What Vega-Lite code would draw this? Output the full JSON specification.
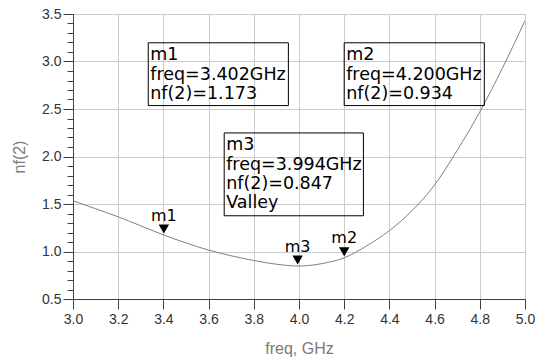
{
  "$schema": "https://vega.github.io/schema/vega-lite/v6.json",
  "width": 452,
  "height": 285,
  "autosize": "none",
  "padding": {"left": 73, "top": 14, "right": 10, "bottom": 63},
  "background": "white",
  "config": {
    "view": {"stroke": "#404040", "strokeWidth": 1},
    "axis": {
      "labelFont": "Liberation Sans",
      "labelFontSize": 14,
      "labelColor": "#333333",
      "titleFont": "Liberation Sans",
      "titleFontSize": 16,
      "titleFontWeight": "normal",
      "titleColor": "#7a7a7a",
      "tickColor": "#404040",
      "domainColor": "#404040",
      "gridColor": "#cccccc",
      "gridWidth": 1,
      "tickWidth": 1
    }
  },
  "resolve": {"axis": {"y": "independent"}},
  "datasets": {
    "curve": [
      {"freq": 3.0, "nf": 1.535},
      {"freq": 3.1, "nf": 1.45},
      {"freq": 3.2, "nf": 1.365},
      {"freq": 3.3, "nf": 1.27},
      {"freq": 3.4, "nf": 1.175},
      {"freq": 3.5, "nf": 1.09},
      {"freq": 3.6, "nf": 1.015},
      {"freq": 3.7, "nf": 0.955},
      {"freq": 3.8, "nf": 0.905},
      {"freq": 3.9, "nf": 0.866},
      {"freq": 4.0, "nf": 0.847},
      {"freq": 4.1, "nf": 0.872},
      {"freq": 4.2, "nf": 0.934},
      {"freq": 4.3, "nf": 1.06},
      {"freq": 4.4, "nf": 1.22},
      {"freq": 4.5, "nf": 1.43},
      {"freq": 4.6, "nf": 1.7},
      {"freq": 4.7, "nf": 2.065},
      {"freq": 4.8, "nf": 2.47},
      {"freq": 4.9, "nf": 2.93},
      {"freq": 5.0, "nf": 3.43}
    ],
    "markers": [
      {"name": "m1", "freq": 3.402, "nf": 1.173},
      {"name": "m2", "freq": 4.2, "nf": 0.934},
      {"name": "m3", "freq": 3.994, "nf": 0.847}
    ],
    "boxes": [
      {"name": "m1", "x1": 3.333, "x2": 3.953, "y1": 3.197, "y2": 2.536, "lines": ["m1", "freq=3.402GHz", "nf(2)=1.173"]},
      {"name": "m2", "x1": 4.2, "x2": 4.82, "y1": 3.197, "y2": 2.536, "lines": ["m2", "freq=4.200GHz", "nf(2)=0.934"]},
      {"name": "m3", "x1": 3.669, "x2": 4.285, "y1": 2.248, "y2": 1.376, "lines": ["m3", "freq=3.994GHz", "nf(2)=0.847", "Valley"]}
    ]
  },
  "layer": [
    {
      "data": {"name": "curve"},
      "mark": {"type": "line", "color": "#808080", "strokeWidth": 1, "interpolate": "monotone", "clip": true},
      "encoding": {
        "x": {
          "field": "freq", "type": "quantitative",
          "scale": {"domain": [3, 5], "nice": false, "zero": false},
          "axis": {
            "title": "freq, GHz",
            "values": [3.0, 3.1, 3.2, 3.3, 3.4, 3.5, 3.6, 3.7, 3.8, 3.9, 4.0, 4.1, 4.2, 4.3, 4.4, 4.5, 4.6, 4.7, 4.8, 4.9, 5.0],
            "format": ".1f",
            "labelExpr": "abs(datum.value*5 - round(datum.value*5)) < 0.001 ? datum.label : ''",
            "tickSize": {"condition": {"test": "abs(datum.value*5 - round(datum.value*5)) < 0.001", "value": 10}, "value": 6},
            "gridOpacity": {"condition": {"test": "abs(datum.value*5 - round(datum.value*5)) < 0.001", "value": 1}, "value": 0},
            "grid": true,
            "labelPadding": 3,
            "labelFlush": false,
            "labelOverlap": false,
            "titlePadding": 14
          }
        },
        "y": {
          "field": "nf", "type": "quantitative",
          "scale": {"domain": [0.5, 3.5], "nice": false, "zero": false},
          "axis": {
            "orient": "left",
            "title": "nf(2)",
            "values": [0.5, 1.0, 1.5, 2.0, 2.5, 3.0, 3.5],
            "format": ".1f",
            "tickSize": 10,
            "grid": true,
            "labelPadding": 2,
            "labelFlush": false,
            "labelOverlap": false,
            "titlePadding": 14
          }
        }
      }
    },
    {
      "data": {"name": "markers"},
      "mark": {"type": "point", "shape": "triangle-down", "filled": true, "color": "#000000", "size": 110, "opacity": 1, "yOffset": -6},
      "encoding": {
        "x": {"field": "freq", "type": "quantitative"},
        "y": {
          "field": "nf", "type": "quantitative",
          "axis": {
            "orient": "left",
            "title": null,
            "values": [0.6, 0.7, 0.8, 0.9, 1.1, 1.2, 1.3, 1.4, 1.6, 1.7, 1.8, 1.9, 2.1, 2.2, 2.3, 2.4, 2.6, 2.7, 2.8, 2.9, 3.1, 3.2, 3.3, 3.4],
            "labels": false,
            "tickSize": 6,
            "grid": false,
            "domain": false
          }
        }
      }
    },
    {
      "data": {"name": "boxes"},
      "mark": {"type": "rect", "fillOpacity": 0, "stroke": "#000000", "strokeWidth": 1},
      "encoding": {
        "x": {"field": "x1", "type": "quantitative"},
        "x2": {"field": "x2"},
        "y": {"field": "y1", "type": "quantitative", "axis": null},
        "y2": {"field": "y2"}
      }
    },
    {
      "data": {"name": "boxes"},
      "mark": {"type": "text", "align": "left", "baseline": "top", "dx": 2, "dy": 3.5, "font": "DejaVu Sans", "fontSize": 17.5, "lineHeight": 19.3, "color": "#000000"},
      "encoding": {
        "x": {"field": "x1", "type": "quantitative"},
        "y": {"field": "y1", "type": "quantitative", "axis": null},
        "text": {"field": "lines"}
      }
    },
    {
      "data": {"name": "markers"},
      "mark": {"type": "text", "align": "center", "baseline": "alphabetic", "dy": -14.5, "font": "DejaVu Sans", "fontSize": 16, "color": "#000000"},
      "encoding": {
        "x": {"field": "freq", "type": "quantitative"},
        "y": {"field": "nf", "type": "quantitative", "axis": null},
        "text": {"field": "name"}
      }
    }
  ]
}
